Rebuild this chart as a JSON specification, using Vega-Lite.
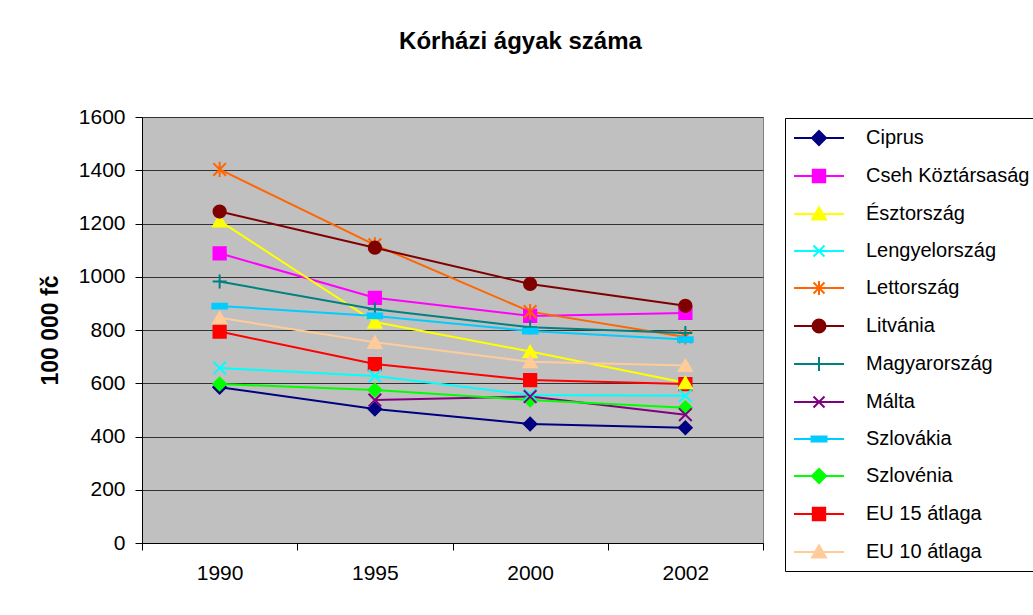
{
  "$schema": "https://vega.github.io/schema/vega-lite/v6.json",
  "width": 621,
  "height": 426,
  "autosize": {"type": "none"},
  "padding": {"left": 142, "top": 117, "right": 270, "bottom": 72},
  "background": "white",
  "title": {"text": "Kórházi ágyak száma", "font": "Liberation Sans", "fontSize": 24, "fontWeight": "bold", "color": "black", "anchor": "middle", "dx": 68, "offset": 52},
  "data": {"values": [
    {"orszag": "Ciprus", "ev": "1990", "ertek": 585},
    {"orszag": "Ciprus", "ev": "1995", "ertek": 503},
    {"orszag": "Ciprus", "ev": "2000", "ertek": 447},
    {"orszag": "Ciprus", "ev": "2002", "ertek": 433},
    {"orszag": "Cseh Köztársaság", "ev": "1990", "ertek": 1088},
    {"orszag": "Cseh Köztársaság", "ev": "1995", "ertek": 921},
    {"orszag": "Cseh Köztársaság", "ev": "2000", "ertek": 853},
    {"orszag": "Cseh Köztársaság", "ev": "2002", "ertek": 864},
    {"orszag": "Észtország", "ev": "1990", "ertek": 1210},
    {"orszag": "Észtország", "ev": "1995", "ertek": 830},
    {"orszag": "Észtország", "ev": "2000", "ertek": 719},
    {"orszag": "Észtország", "ev": "2002", "ertek": 602},
    {"orszag": "Lengyelország", "ev": "1990", "ertek": 657},
    {"orszag": "Lengyelország", "ev": "1995", "ertek": 627},
    {"orszag": "Lengyelország", "ev": "2000", "ertek": 556},
    {"orszag": "Lengyelország", "ev": "2002", "ertek": 553},
    {"orszag": "Lettország", "ev": "1990", "ertek": 1403},
    {"orszag": "Lettország", "ev": "1995", "ertek": 1120},
    {"orszag": "Lettország", "ev": "2000", "ertek": 869},
    {"orszag": "Lettország", "ev": "2002", "ertek": 774},
    {"orszag": "Litvánia", "ev": "1990", "ertek": 1245},
    {"orszag": "Litvánia", "ev": "1995", "ertek": 1109},
    {"orszag": "Litvánia", "ev": "2000", "ertek": 973},
    {"orszag": "Litvánia", "ev": "2002", "ertek": 891},
    {"orszag": "Magyarország", "ev": "1990", "ertek": 982},
    {"orszag": "Magyarország", "ev": "1995", "ertek": 878},
    {"orszag": "Magyarország", "ev": "2000", "ertek": 810},
    {"orszag": "Magyarország", "ev": "2002", "ertek": 789},
    {"orszag": "Málta", "ev": "1995", "ertek": 537},
    {"orszag": "Málta", "ev": "2000", "ertek": 550},
    {"orszag": "Málta", "ev": "2002", "ertek": 482},
    {"orszag": "Szlovákia", "ev": "1990", "ertek": 890},
    {"orszag": "Szlovákia", "ev": "1995", "ertek": 853},
    {"orszag": "Szlovákia", "ev": "2000", "ertek": 796},
    {"orszag": "Szlovákia", "ev": "2002", "ertek": 764},
    {"orszag": "Szlovénia", "ev": "1990", "ertek": 597},
    {"orszag": "Szlovénia", "ev": "1995", "ertek": 575},
    {"orszag": "Szlovénia", "ev": "2000", "ertek": 537},
    {"orszag": "Szlovénia", "ev": "2002", "ertek": 508},
    {"orszag": "EU 15 átlaga", "ev": "1990", "ertek": 794},
    {"orszag": "EU 15 átlaga", "ev": "1995", "ertek": 672},
    {"orszag": "EU 15 átlaga", "ev": "2000", "ertek": 612},
    {"orszag": "EU 15 átlaga", "ev": "2002", "ertek": 597},
    {"orszag": "EU 10 átlaga", "ev": "1990", "ertek": 846},
    {"orszag": "EU 10 átlaga", "ev": "1995", "ertek": 754},
    {"orszag": "EU 10 átlaga", "ev": "2000", "ertek": 681},
    {"orszag": "EU 10 átlaga", "ev": "2002", "ertek": 667}
  ]},
  "resolve": {"legend": {"color": "independent", "stroke": "independent", "shape": "independent"}},
  "encoding": {
    "x": {
      "field": "ev", "type": "ordinal",
      "scale": {"type": "band", "paddingInner": 0, "paddingOuter": 0},
      "bandPosition": 0.5,
      "axis": {"title": null, "labelAngle": 0, "tickBand": "extent", "tickSize": 7, "labelPadding": 12, "labelFont": "Liberation Sans", "labelFontSize": 21, "labelColor": "black", "domainColor": "black", "tickColor": "black", "grid": false}
    },
    "y": {
      "field": "ertek", "type": "quantitative",
      "scale": {"domain": [0, 1600], "nice": false},
      "axis": {"title": "100 000 fč", "titleFont": "Liberation Sans", "titleFontSize": 23, "titleFontWeight": "bold", "titleColor": "black", "titlePadding": 16, "values": [0, 200, 400, 600, 800, 1000, 1200, 1400, 1600], "format": "d", "labelFont": "Liberation Sans", "labelFontSize": 21, "labelColor": "black", "labelPadding": 10, "tickSize": 7, "tickColor": "black", "domainColor": "black", "grid": true, "gridColor": "#333333", "gridWidth": 1}
    },
    "color": {
      "field": "orszag", "type": "nominal", "legend": null,
      "scale": {
        "domain": ["Ciprus", "Cseh Köztársaság", "Észtország", "Lengyelország", "Lettország", "Litvánia", "Magyarország", "Málta", "Szlovákia", "Szlovénia", "EU 15 átlaga", "EU 10 átlaga"],
        "range": ["#000080", "#FF00FF", "#FFFF00", "#00FFFF", "#FF6600", "#800000", "#008080", "#800080", "#00CCFF", "#00FF00", "#FF0000", "#FFCC99"]
      }
    },
    "stroke": {
      "field": "orszag", "type": "nominal", "legend": null,
      "scale": {
        "domain": ["Ciprus", "Cseh Köztársaság", "Észtország", "Lengyelország", "Lettország", "Litvánia", "Magyarország", "Málta", "Szlovákia", "Szlovénia", "EU 15 átlaga", "EU 10 átlaga"],
        "range": ["#000080", "#FF00FF", "#FFFF00", "#00FFFF", "#FF6600", "#800000", "#008080", "#800080", "#00CCFF", "#00FF00", "#FF0000", "#FFCC99"]
      }
    }
  },
  "layer": [
    {"mark": {"type": "line", "strokeWidth": 2}},
    {
      "transform": [{"filter": {"field": "orszag", "oneOf": ["Ciprus", "Szlovénia"]}}],
      "mark": {"type": "point", "shape": "diamond", "filled": true, "opacity": 1, "strokeWidth": 2, "size": 160}
    },
    {
      "transform": [{"filter": {"field": "orszag", "oneOf": ["Cseh Köztársaság", "EU 15 átlaga"]}}],
      "mark": {"type": "point", "shape": "square", "filled": true, "opacity": 1, "strokeWidth": 2, "size": 150}
    },
    {
      "transform": [{"filter": {"field": "orszag", "oneOf": ["Észtország", "EU 10 átlaga"]}}],
      "mark": {"type": "point", "shape": "triangle-up", "filled": true, "opacity": 1, "strokeWidth": 2, "size": 170}
    },
    {
      "transform": [{"filter": {"field": "orszag", "oneOf": ["Lengyelország", "Málta"]}}],
      "mark": {"type": "point", "shape": "M-1,-1L1,1M-1,1L1,-1", "filled": true, "opacity": 1, "strokeWidth": 2, "size": 160}
    },
    {
      "transform": [{"filter": {"field": "orszag", "equal": "Lettország"}}],
      "mark": {"type": "point", "shape": "M-1,-1L1,1M-1,1L1,-1M0,-1.2V1.2", "filled": true, "opacity": 1, "strokeWidth": 2, "size": 160}
    },
    {
      "transform": [{"filter": {"field": "orszag", "equal": "Litvánia"}}],
      "mark": {"type": "point", "shape": "circle", "filled": true, "opacity": 1, "strokeWidth": 2, "size": 150}
    },
    {
      "transform": [{"filter": {"field": "orszag", "equal": "Magyarország"}}],
      "mark": {"type": "point", "shape": "M-1.1,0H1.1M0,-1.1V1.1", "filled": true, "opacity": 1, "strokeWidth": 2, "size": 160}
    },
    {
      "transform": [{"filter": {"field": "orszag", "equal": "Szlovákia"}}],
      "mark": {"type": "point", "shape": "M-1.15,-0.38H1.15V0.38H-1.15Z", "filled": true, "opacity": 1, "strokeWidth": 2, "size": 160}
    },
    {
      "mark": {"type": "point", "filled": true, "opacity": 0, "size": 160},
      "encoding": {
        "color": {
          "field": "orszag", "type": "nominal", "legend": {"title": null},
          "scale": {
            "domain": ["Ciprus", "Cseh Köztársaság", "Észtország", "Lengyelország", "Lettország", "Litvánia", "Magyarország", "Málta", "Szlovákia", "Szlovénia", "EU 15 átlaga", "EU 10 átlaga"],
            "range": ["#000080", "#FF00FF", "#FFFF00", "#00FFFF", "#FF6600", "#800000", "#008080", "#800080", "#00CCFF", "#00FF00", "#FF0000", "#FFCC99"]
          }
        },
        "stroke": {
          "field": "orszag", "type": "nominal", "legend": {"title": null},
          "scale": {
            "domain": ["Ciprus", "Cseh Köztársaság", "Észtország", "Lengyelország", "Lettország", "Litvánia", "Magyarország", "Málta", "Szlovákia", "Szlovénia", "EU 15 átlaga", "EU 10 átlaga"],
            "range": ["#000080", "#FF00FF", "#FFFF00", "#00FFFF", "#FF6600", "#800000", "#008080", "#800080", "#00CCFF", "#00FF00", "#FF0000", "#FFCC99"]
          }
        },
        "shape": {
          "field": "orszag", "type": "nominal", "legend": {"title": null},
          "scale": {
            "domain": ["Ciprus", "Cseh Köztársaság", "Észtország", "Lengyelország", "Lettország", "Litvánia", "Magyarország", "Málta", "Szlovákia", "Szlovénia", "EU 15 átlaga", "EU 10 átlaga"],
            "range": [
              "M-2.5,0H2.5M0,-0.7L0.7,0L0,0.7L-0.7,0Z",
              "M-2.5,0H2.5M-0.62,-0.62H0.62V0.62H-0.62Z",
              "M-2.5,0H2.5M0,-0.68L0.7,0.55H-0.7Z",
              "M-2.5,0H2.5M-0.55,-0.55L0.55,0.55M-0.55,0.55L0.55,-0.55",
              "M-2.5,0H2.5M-0.55,-0.55L0.55,0.55M-0.55,0.55L0.55,-0.55M0,-0.7V0.7",
              "M-2.5,0H2.5M-0.65,0A0.65,0.65,0,1,0,0.65,0A0.65,0.65,0,1,0,-0.65,0Z",
              "M-2.5,0H2.5M0,-0.7V0.7",
              "M-2.5,0H2.5M-0.55,-0.55L0.55,0.55M-0.55,0.55L0.55,-0.55",
              "M-2.5,0H2.5M-0.75,-0.25H0.75V0.25H-0.75Z",
              "M-2.5,0H2.5M0,-0.7L0.7,0L0,0.7L-0.7,0Z",
              "M-2.5,0H2.5M-0.62,-0.62H0.62V0.62H-0.62Z",
              "M-2.5,0H2.5M0,-0.68L0.7,0.55H-0.7Z"
            ]
          }
        }
      }
    }
  ],
  "config": {
    "view": {"fill": "#C0C0C0", "stroke": "#808080"},
    "legend": {
      "orient": "none", "legendX": 643, "legendY": 1,
      "strokeColor": "black", "fillColor": "white", "padding": 9,
      "labelFont": "Liberation Sans", "labelFontSize": 20, "labelColor": "black", "labelLimit": 400,
      "symbolSize": 400, "symbolStrokeWidth": 2, "symbolOpacity": 1, "symbolOffset": 14,
      "rowPadding": 16, "labelOffset": 36
    }
  }
}
